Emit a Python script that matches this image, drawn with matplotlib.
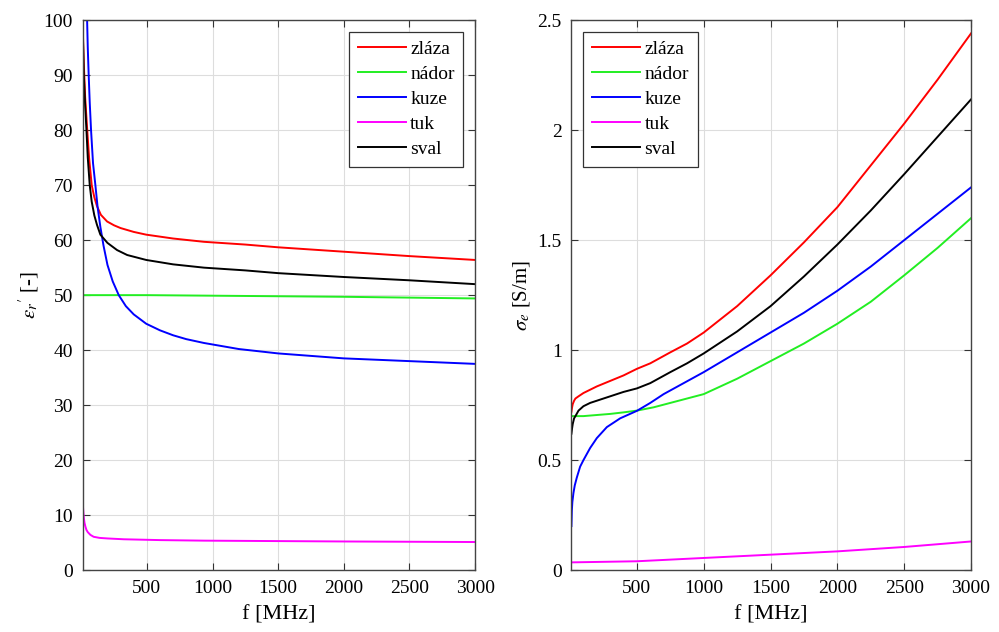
import matplotlib
matplotlib.use("Agg")
import matplotlib.pyplot as plt
import matplotlib.ticker as mticker

plt.rcParams["font.family"] = ["Liberation Serif", "DejaVu Serif"]
plt.rcParams["mathtext.fontset"] = "stix"

LABELS = ["zláza", "nádor", "kuze", "tuk", "sval"]
COLORS = ["#ff0000", "#22ee22", "#0000ff", "#ff00ff", "#000000"]

# relative permittivity readings (f in MHz)
EPS_F = {
    "zláza": [10, 15, 20, 30, 46, 60, 80, 100, 120, 150, 197, 250, 300, 400, 495, 700, 935,
              1250, 1500, 2000, 2500, 3000],
    "nádor": [10, 500, 1000, 2000, 3000],
    "kuze": [45, 50, 57, 65, 75, 90, 108, 125, 146, 170, 200, 240, 286, 340, 400, 495, 600,
             700, 800, 935, 1200, 1500, 2000, 2500, 3000],
    "tuk": [10, 12, 15, 20, 25, 32, 40, 50, 70, 95, 140, 200, 324, 600, 935, 2000, 3000],
    "sval": [10, 15, 20, 30, 40, 50, 65, 80, 100, 120, 146, 200, 273, 350, 495, 700, 935,
             1250, 1500, 2000, 2500, 3000],
}
EPS_V = {
    "zláza": [100, 96, 92, 86, 80, 75, 70, 67.8, 66.2, 64.6, 63.4, 62.7, 62.2, 61.5, 61, 60.3,
              59.7, 59.2, 58.7, 57.9, 57.1, 56.4],
    "nádor": [50, 50, 49.9, 49.7, 49.4],
    "kuze": [100, 95, 90, 85, 80, 74, 70, 66, 62.4, 59, 55.5, 52.5, 50, 48, 46.5, 44.8, 43.6,
             42.7, 42, 41.3, 40.2, 39.4, 38.5, 38, 37.5],
    "tuk": [13.6, 12, 11, 9.5, 8.6, 7.9, 7.3, 6.9, 6.4, 6.05, 5.85, 5.75, 5.6, 5.45, 5.35,
            5.2, 5.1],
    "sval": [100, 95, 90, 84.5, 80, 75, 70, 67, 64.5, 62.8, 61, 59.5, 58.2, 57.3, 56.4, 55.6,
             55, 54.5, 54, 53.3, 52.7, 52],
}

# conductivity readings (f in MHz)
SIG_F = {
    "zláza": [10, 15, 20, 30, 40, 63, 100, 150, 200, 300, 400, 500, 600, 750, 875, 1000,
              1250, 1500, 1750, 2000, 2250, 2500, 2750, 3000],
    "nádor": [10, 100, 200, 300, 400, 500, 625, 750, 875, 1000, 1250, 1500, 1750, 2000,
              2250, 2500, 2750, 3000],
    "kuze": [10, 13, 17, 25, 35, 50, 75, 100, 150, 200, 275, 375, 500, 600, 700, 850, 1000,
             1250, 1500, 1750, 2000, 2250, 2500, 2750, 3000],
    "tuk": [10, 500, 1000, 1500, 2000, 2500, 3000],
    "sval": [10, 15, 20, 30, 40, 63, 100, 150, 200, 300, 400, 500, 600, 750, 875, 1000,
             1250, 1500, 1750, 2000, 2250, 2500, 2750, 3000],
}
SIG_V = {
    "zláza": [0.72, 0.74, 0.755, 0.77, 0.78, 0.79, 0.805, 0.82, 0.835, 0.86, 0.885, 0.915,
              0.94, 0.99, 1.03, 1.08, 1.20, 1.34, 1.49, 1.65, 1.84, 2.03, 2.23, 2.44],
    "nádor": [0.70, 0.70, 0.705, 0.71, 0.717, 0.725, 0.74, 0.76, 0.78, 0.80, 0.87, 0.95,
              1.03, 1.12, 1.22, 1.34, 1.465, 1.60],
    "kuze": [0.2, 0.27, 0.31, 0.35, 0.385, 0.42, 0.47, 0.50, 0.555, 0.60, 0.65, 0.69, 0.724,
             0.76, 0.80, 0.85, 0.90, 0.99, 1.08, 1.17, 1.27, 1.38, 1.50, 1.62, 1.74],
    "tuk": [0.035, 0.04, 0.055, 0.07, 0.085, 0.105, 0.13],
    "sval": [0.62, 0.645, 0.665, 0.69, 0.70, 0.725, 0.745, 0.76, 0.77, 0.79, 0.81, 0.826,
             0.85, 0.90, 0.94, 0.985, 1.085, 1.20, 1.335, 1.48, 1.635, 1.80, 1.97, 2.14],
}

X_TICKS = [500, 1000, 1500, 2000, 2500, 3000]


def style_axes(ax):
    ax.set_xlim(10, 3000)
    ax.set_xticks(X_TICKS)
    ax.grid(True, color="#dddddd", linewidth=0.8)
    ax.set_axisbelow(True)
    ax.tick_params(direction="in", top=True, right=True, labelsize=14,
                   length=5, color="#333333", pad=7)
    for sp in ax.spines.values():
        sp.set_color("#444444")
        sp.set_linewidth(1.0)
    ax.set_xlabel("f [MHz]", fontsize=16, labelpad=6)


fig = plt.figure(figsize=(9.99, 6.32), dpi=100)
ax1 = fig.add_axes([0.0826, 0.098, 0.393, 0.870])
ax2 = fig.add_axes([0.572, 0.098, 0.400, 0.870])

for name, c in zip(LABELS, COLORS):
    ax1.plot(EPS_F[name], EPS_V[name], color=c, linewidth=1.4, label=name)
    ax2.plot(SIG_F[name], SIG_V[name], color=c, linewidth=1.4, label=name)

style_axes(ax1)
ax1.set_ylim(0, 100)
ax1.set_yticks(range(0, 101, 10))
ax1.set_ylabel(r"$\epsilon_r{}'$ [-]", fontsize=15, labelpad=2)

style_axes(ax2)
ax2.set_ylim(0, 2.5)
ax2.set_yticks([0, 0.5, 1, 1.5, 2, 2.5])
ax2.yaxis.set_major_formatter(mticker.FormatStrFormatter("%g"))
ax2.set_ylabel(r"$\sigma_e$ [S/m]", fontsize=15, labelpad=4)

for ax, loc in [(ax1, "upper right"), (ax2, "upper left")]:
    leg = ax.legend(loc=loc, fontsize=14, handlelength=2.5, handletextpad=0.2,
                    labelspacing=0.38, borderpad=0.45, fancybox=False,
                    framealpha=1, borderaxespad=0.6)
    leg.get_frame().set_edgecolor("#333333")
    leg.get_frame().set_linewidth(0.9)

fig.savefig("out.png", dpi=100)
